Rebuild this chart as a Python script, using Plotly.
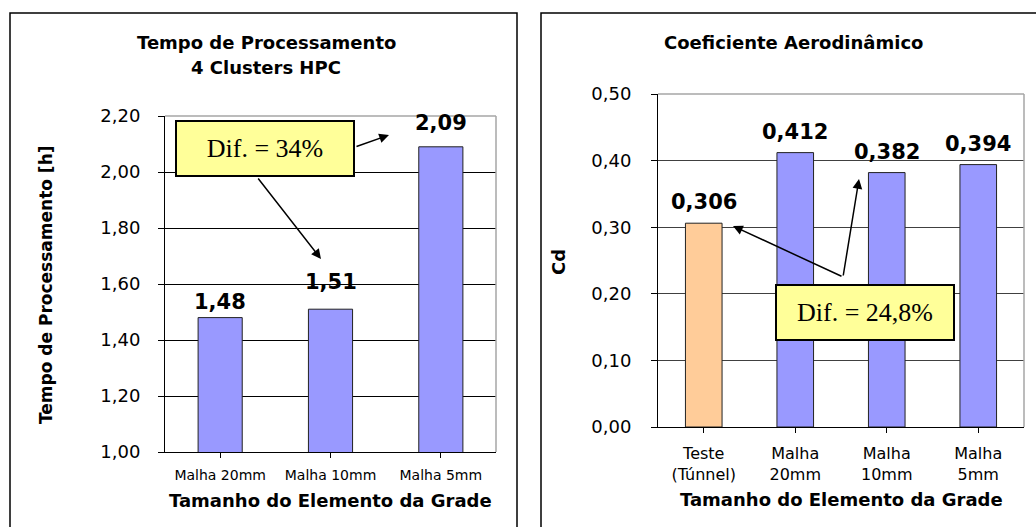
import plotly.graph_objects as go

# ---- data ----
tempo_categorias = ["Malha 20mm", "Malha 10mm", "Malha 5mm"]
tempo_horas = [1.48, 1.51, 2.09]

cd_categorias = ["Teste<br>(Túnnel)", "Malha<br>20mm", "Malha<br>10mm", "Malha<br>5mm"]
cd_valores = [0.306, 0.412, 0.382, 0.394]

tempo_ticks = [1.00, 1.20, 1.40, 1.60, 1.80, 2.00, 2.20]
cd_ticks = [0.00, 0.10, 0.20, 0.30, 0.40, 0.50]

# ---- canvas helpers (pixel -> paper) ----
W, H = 1036, 527


def px(x):
    return x / W


def py(y):
    return 1 - y / H


AZUL = "#9999FF"
LARANJA = "#FFCC99"
SANS = "DejaVu Sans"
SERIF = "Liberation Serif"

fig = go.Figure()

fig.add_trace(go.Bar(
    x=tempo_categorias, y=tempo_horas, xaxis="x", yaxis="y",
    marker=dict(color=AZUL, line=dict(color="#222222", width=1)),
    hoverinfo="x+y", showlegend=False,
))
fig.add_trace(go.Bar(
    x=cd_categorias, y=cd_valores, xaxis="x2", yaxis="y2",
    marker=dict(color=[LARANJA] + [AZUL] * (len(cd_valores) - 1),
                line=dict(color="#222222", width=1)),
    hoverinfo="x+y", showlegend=False,
))

eixo_x = dict(showline=True, linecolor="black", linewidth=1, ticks="outside",
              ticklen=5, tickcolor="black", showgrid=False, zeroline=False,
              type="category", automargin=False)
eixo_y = dict(showline=True, linecolor="black", linewidth=1, ticks="outside",
              ticklen=6, tickcolor="black", zeroline=False, automargin=False,
              tickformat=".2f", tickfont=dict(family=SANS, size=18, color="black"))

fig.update_layout(
    template="none",
    width=W, height=H,
    margin=dict(l=0, r=0, t=0, b=0, pad=0),
    paper_bgcolor="white", plot_bgcolor="white",
    separators=",.",
    bargap=0.6,
    showlegend=False,
    xaxis=dict(eixo_x, domain=[px(165), px(496)], anchor="y",
               tickfont=dict(family=SANS, size=14, color="black"),
               ticklabelstandoff=5),
    yaxis=dict(eixo_y, domain=[py(452), py(116)], anchor="x",
               range=[1.0, 2.2], tickvals=tempo_ticks,
               gridcolor="black", gridwidth=1, ticklabelstandoff=14),
    xaxis2=dict(eixo_x, domain=[px(658), px(1024)], anchor="y2",
                tickfont=dict(family=SANS, size=16, color="black"),
                ticklabelstandoff=7),
    yaxis2=dict(eixo_y, domain=[py(427), py(94)], anchor="x2",
                range=[0, 0.5], tickvals=cd_ticks,
                gridcolor="#404040", gridwidth=1, ticklabelstandoff=16),
)

shapes = []
# outer frames of the two panels
shapes.append(dict(type="rect", xref="paper", yref="paper",
                   x0=px(10), x1=px(517), y0=-0.05, y1=py(13),
                   line=dict(color="black", width=1.5), fillcolor="rgba(0,0,0,0)"))
shapes.append(dict(type="rect", xref="paper", yref="paper",
                   x0=px(541), x1=1.05, y0=-0.05, y1=py(13),
                   line=dict(color="black", width=1.5), fillcolor="rgba(0,0,0,0)"))
# grey top/right edges of the plotting areas
for xa, ya in (("x", "y"), ("x2", "y2")):
    shapes.append(dict(type="line", xref=f"{xa} domain", yref=f"{ya} domain",
                       x0=0, x1=1, y0=1, y1=1,
                       line=dict(color="#A6A6A6", width=1.5)))
    shapes.append(dict(type="line", xref=f"{xa} domain", yref=f"{ya} domain",
                       x0=1, x1=1, y0=0, y1=1,
                       line=dict(color="#A6A6A6", width=1.5)))
fig.update_layout(shapes=shapes)

ann = []


def texto_livre(texto, x, y, size, angle=0):
    return dict(text=texto, x=px(x), y=py(y), xref="paper", yref="paper",
                xanchor="center", yanchor="middle", showarrow=False,
                textangle=angle, font=dict(family=SANS, size=size, color="black"))


# chart titles
ann.append(texto_livre("<b>Tempo de Processamento</b>", 266, 42, 18))
ann.append(texto_livre("<b>4 Clusters HPC</b>", 266, 67, 18))
ann.append(texto_livre("<b>Coeficiente Aerodinâmico</b>", 793, 42, 18))

# axis titles
ann.append(texto_livre("<b>Tamanho do Elemento da Grade</b>", 330, 500, 18))
ann.append(texto_livre("<b>Tamanho do Elemento da Grade</b>", 841, 499, 18))
ann.append(texto_livre("<b>Tempo de Processamento [h]</b>", 46, 285, 17, -90))
ann.append(texto_livre("<b>Cd</b>", 559, 262, 18, -90))

# value labels above the bars
tempo_lift = [16, 27, 24]
for cat, val, lift in zip(tempo_categorias, tempo_horas, tempo_lift):
    ann.append(dict(text=f"<b>{val:.2f}</b>".replace(".", ","), x=cat, y=val,
                    xref="x", yref="y", xanchor="center", yanchor="middle",
                    yshift=lift, showarrow=False,
                    font=dict(family=SANS, size=21, color="black")))
for cat, val in zip(cd_categorias, cd_valores):
    ann.append(dict(text=f"<b>{val:.3f}</b>".replace(".", ","), x=cat, y=val,
                    xref="x2", yref="y2", xanchor="center", yanchor="middle",
                    yshift=21, showarrow=False,
                    font=dict(family=SANS, size=21, color="black")))

# callout arrows (head in paper coords, tail as pixel offset)
setas = [
    ((389, 135), (355, 147)),
    ((321, 259), (257, 177)),
    ((733, 226), (843, 277)),
    ((859, 179), (843, 277)),
]
for (hx, hy), (tx, ty) in setas:
    ann.append(dict(text="", x=px(hx), y=py(hy), xref="paper", yref="paper",
                    ax=tx - hx, ay=ty - hy, axref="pixel", ayref="pixel",
                    showarrow=True, arrowhead=2, arrowsize=1.3,
                    arrowwidth=1.5, arrowcolor="black", standoff=0))

# callout boxes
for texto, cx, cy in (("Dif. = 34%", 265, 148.5), ("Dif. = 24,8%", 865, 312.5)):
    ann.append(dict(text=texto, x=px(cx), y=py(cy), xref="paper", yref="paper",
                    xanchor="center", yanchor="middle",
                    showarrow=False, width=176, height=53,
                    bgcolor="#FFFF99", bordercolor="black", borderwidth=2,
                    borderpad=0,
                    font=dict(family=SERIF, size=26, color="black")))

fig.update_layout(annotations=ann)

fig.write_html("out.html")
